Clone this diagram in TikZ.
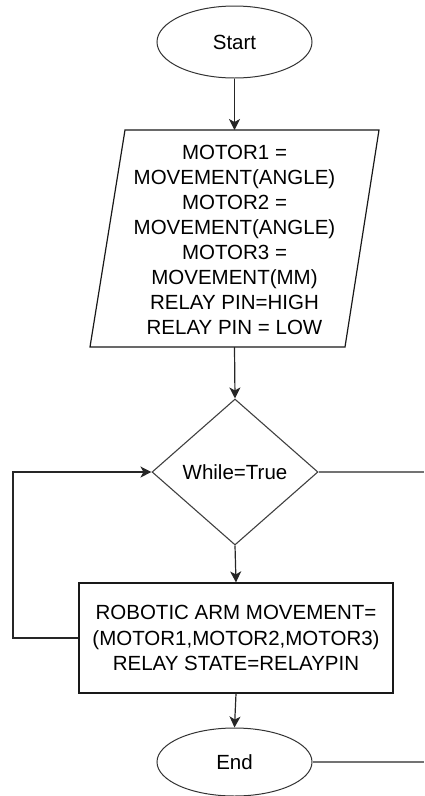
\documentclass[tikz,border=0pt]{standalone}
\usepackage{fontspec}
\setmainfont{Liberation Sans}
\usetikzlibrary{shapes.geometric,arrows.meta}
\begin{document}
\begin{tikzpicture}[x=1pt,y=-1pt,
  every node/.style={font=\fontsize{20.5}{25.1}\selectfont, inner sep=0pt, text=black},
  line/.style={line width=1.2pt, draw=black!85},
  arr/.style={line, -{Stealth[length=11pt,width=11pt,inset=3pt]}},
  gline/.style={line width=1.1pt, draw=black!55},
  term/.style={ellipse, draw=black!80, line width=1pt, minimum width=155pt, minimum height=72pt},
  decision/.style={diamond, draw=black!75, line width=1.1pt, minimum width=166pt, minimum height=146pt},
  procbox/.style={rectangle, draw=black!90, line width=1.2pt, minimum width=314pt, minimum height=110pt, align=center}
]
\useasboundingbox (0,0) rectangle (424,796);

% Start
\node[term] (start) at (234.5,42) {Start};

% Parallelogram (input/output)
\draw[line, draw=black!90] (125,130) -- (379,130) -- (345,347) -- (90,347) -- cycle;
\node[align=center] (pg) at (234.5,240) {MOTOR1 =\\MOVEMENT(ANGLE)\\MOTOR2 =\\MOVEMENT(ANGLE)\\MOTOR3 =\\MOVEMENT(MM)\\RELAY PIN=HIGH\\RELAY PIN = LOW};
\coordinate (pgtop) at (234.5,130);
\coordinate (pgbot) at (234.5,347);

% Decision
\node[decision] (dia) at (235,472) {While=True};

% Process box
\node[procbox] (proc) at (236,638) {ROBOTIC ARM MOVEMENT=\\(MOTOR1,MOTOR2,MOTOR3)\\RELAY STATE=RELAYPIN};

% End
\node[term, minimum height=68pt] (end) at (234.5,762) {End};

% Connectors
\draw[arr] (start.south) -- (pgtop);
\draw[arr] (pgbot) -- (dia.north);
\draw[arr] (dia.south) -- (proc.north);
\draw[arr] (proc.south) -- (end.north);

\coordinate (loop) at (13,638);
\draw[arr] (proc.west) -- (loop) |- (dia.west);

\coordinate (r1) at (424,472);
\coordinate (r2) at (424,762);
\draw[gline] (dia.east) -- (r1);
\draw[gline] (end.east) -- (r2);
\end{tikzpicture}
\end{document}
